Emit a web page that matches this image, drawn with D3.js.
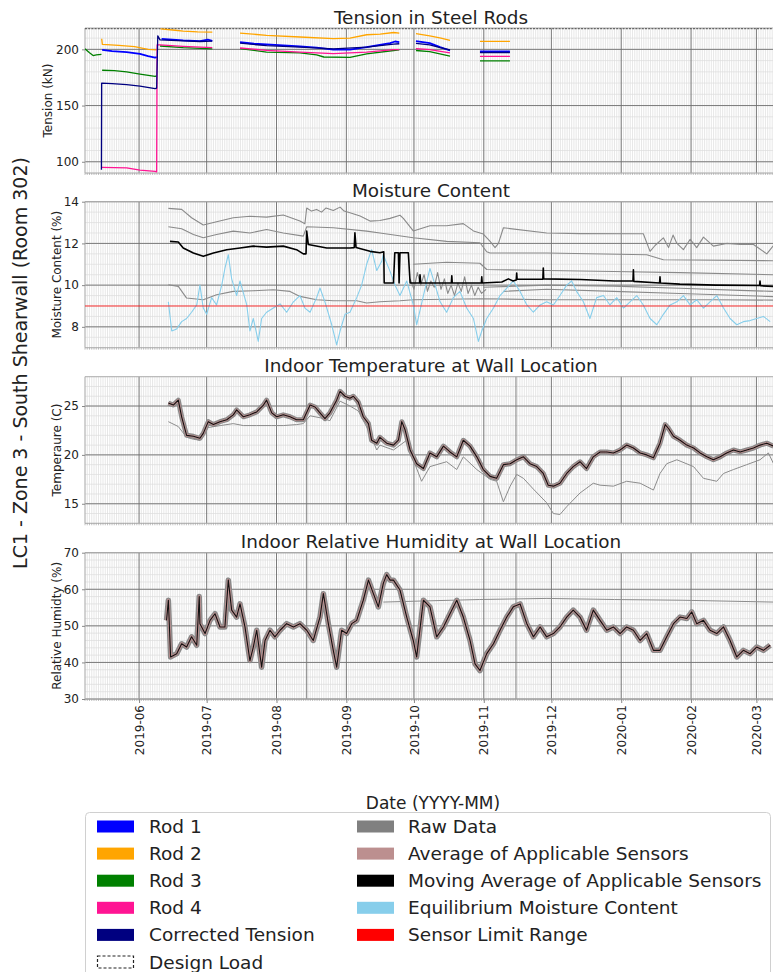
<!DOCTYPE html>
<html><head><meta charset="utf-8">
<script src="https://cdn.jsdelivr.net/npm/d3@7"></script>
<style>body{margin:0;background:#fff}svg{display:block;font-family:"DejaVu Sans",sans-serif}</style>
</head><body><svg id="c" width="773" height="972"></svg>
<script>
// ---------------- DATA (x = days since dayZero) ----------------
const dayZero = "2019-05-08";
const dayEnd = "2020-03-12";
const monthLabels = ["2019-06","2019-07","2019-08","2019-09","2019-10","2019-11","2019-12","2020-01","2020-02","2020-03"];
const eventDays = [98.4, 191.3];

const tensionTicks = [100,150,200];
const moistureTicks = [8,10,12,14];
const tempTicks = [15,20,25];
const humTicks = [30,40,50,60,70];

const designLoad = 218.6;
const sensorLimit = 9.0;

const rod1 = [[7.6,199.5],[12,198.5],[18.5,197.6],[24.4,196],[28,194],[31.1,192.6],[31.8,193],null,
 [34,209.4],[43.6,208],[51,207.4],[54.5,208.6],[56.5,207.5],null,
 [68.8,206.5],[75,205],[80.6,204.4],[88,203.5],[95.4,202.7],[102.8,201.5],[110.2,199.7],[117.6,199.7],[125,202],[135.4,205.6],[137.6,207],[139.5,206.5],null,
 [146.9,207.4],[153,205.6],[157.6,202],[162,199],null,
 [175.3,198.2],[188.6,198.2]];
const rod2 = [[7.4,209.4],[7.7,204.4],[15,203.5],[22,202.5],[28,200],[31.8,199.5],null,
 [33.5,218.3],[40,217],[43.6,216.2],[50,215.5],[56.5,215.3],null,
 [68.8,214.5],[80.6,212.5],[95.4,211],[110.2,209.5],[117.6,210],[125,213],[131,213.5],[137,215],[139.5,214.5],null,
 [146.9,214],[153,212],[158,210],[162,208],null,
 [175.3,207.1],[188.6,207.1]];
const rod3 = [[0,200.5],[2,197],[3.6,194.5],[5,195],[7.3,195.5],null,
 [7.6,181.4],[13,181],[18.5,180],[24.4,178],[31.1,176],[31.8,176.5],null,
 [33.3,203],[43.6,201.5],[56.5,200.5],null,
 [68.8,200.6],[80.6,197.6],[95.4,196.8],[102.8,195],[106,193.2],[117.6,192.8],[125,196],[137,199],[139.5,199.5],null,
 [146.9,199],[153,198],[162,194],null,
 [175.3,189.7],[188.6,189.7]];
const rod4 = [[7.5,95],[18.5,94.5],[24.4,92.5],[31.1,91.5],[31.8,91],[32.0,204],[33.3,204],[43.6,202.7],[56.5,201.5],null,
 [68.8,201.2],[80.6,199.1],[95.4,197.6],[110.2,196.2],[125,197.6],[137,199.7],[139.5,199.8],null,
 [146.9,200.6],[153,199.7],[162,196.8],null,
 [175.3,193.8],[188.6,193.8]];
const correctedTension = [[7.3,93],[7.4,170],[12,169.5],[18.5,168.7],[24.4,167.3],[31.1,165],[31.8,165.5],[32.3,212],[33.3,208.5],[43.6,207.5],[51,207],[56.5,207.3],null,
 [68.8,205.5],[80.6,203.3],[95.4,202],[110.2,200.5],[125,202],[137,204.7],[139.5,205],null,
 [146.9,205.3],[153,204],[157.6,201.5],[162,199.5],null,
 [175.3,197.2],[188.6,197.2]];

const moistRawA = [[37.0,13.68],[42.9,13.63],[47.3,13.23],[52.5,12.88],[58.4,13.04],[65.8,13.23],[73.2,13.3],[80.6,13.26],[88.0,13.36],[95.4,13.07],[97.6,12.94],[98.4,13.7],[100.5,13.55],[102.8,13.63],[105,13.5],[107,13.7],[110.2,13.58],[113.2,13.74],[115,13.55],[117.6,13.47],[122.1,13.31],[126.5,13.07],[130.9,13.1],[135.4,13.2],[139.8,13.35],[141.3,13.2],[145.7,12.6],[153.1,12.85],[160.5,12.85],[167.9,12.95],[172.4,12.6],[176.8,12.45],[179.8,12.1],[182.0,11.8],[183.5,12.0],[185.7,12.75],[204.9,12.5],[219.7,12.47],[247.8,12.46],[250.8,11.62],[253,11.9],[256.7,12.27],[259,11.8],[261,12.4],[262.7,12.0],[265.6,11.7],[268.6,12.2],[271.5,11.8],[274.5,12.3],[278.9,11.87],[284.8,12.0],[290.8,11.95],[296.7,11.95],[302.6,11.5],[305.6,11.9]];
const moistRawB = [[37.0,12.8],[42.9,12.7],[48.1,12.43],[52.5,12.27],[58.4,12.43],[65.8,12.59],[73.2,12.5],[80.6,12.67],[88.0,12.5],[96.9,12.35],[98.4,12.8],[110.2,12.75],[125.0,12.59],[130.9,12.5],[145.7,12.27],[160.5,12.1],[175.3,12.03],[178.3,11.6],[179.8,11.54],[204.9,11.54],[249.3,11.46],[256.7,11.22],[305.6,11.17]];
const moistRawC = [[37.0,10.02],[41.4,9.94],[45.1,9.38],[52.5,9.3],[58.4,9.54],[65.8,9.7],[74.7,9.73],[83.6,9.78],[91.0,9.7],[95.4,9.46],[102.8,9.3],[110.2,9.25],[120.6,9.25],[125.0,9.14],[130.9,9.2],[139.8,9.25],[145.7,9.3],[175.3,9.35],[204.9,9.3],[249.3,9.3],[278.9,9.3],[305.6,9.28]];
const moistRawD = [[145.7,11.0],[160.5,11.1],[175.3,11.05],[178.3,10.75],[204.9,10.7],[234.5,10.65],[264.1,10.6],[305.6,10.5]];
const moistRawE = [[176.8,9.9],[204.9,10.0],[234.5,9.95],[264.1,9.85],[290.8,9.75],[305.6,9.7]];
const moistRawF = [[185.7,9.7],[204.9,9.8],[234.5,9.7],[264.1,9.6],[305.6,9.45]];
const moistRawG = [[144.3,10.3],[146,9.8],[147.5,10.6],[149,10.0],[150.5,10.5],[152,9.7],[153.5,10.2],[155,9.9],[156.5,10.6],[158,9.8],[159.5,10.3],[161,9.6],[162.5,10.0],[164,9.5],[165.5,10.1],[167,9.7],[168.5,10.4],[170,9.6],[171.5,10.0],[173,9.5],[174.5,9.9],[176,9.6],[178,9.8]];
const moistMovingAvg = [[37.7,12.1],[41.4,12.07],[43.6,11.78],[48.1,11.54],[52.5,11.38],[57.0,11.54],[62.9,11.7],[68.8,11.78],[74.7,11.87],[80.6,11.82],[88.0,11.87],[93.9,11.7],[96.9,11.5],[98.1,11.5],[98.4,12.59],[99.1,11.95],[107.3,11.78],[117.6,11.78],[119.5,11.8],[119.8,12.51],[120.3,11.8],[126.5,11.62],[130.9,11.55],[132.6,11.6],[132.8,10.1],[136.9,10.1],[137.5,11.55],[139.1,11.55],[139.4,10.1],[139.8,11.55],[143.5,11.55],[144.3,10.1],[148.5,10.1],[148.7,10.5],[149,10.1],[162.6,10.1],[162.8,10.45],[163,10.1],[175.9,10.1],[176.1,10.4],[176.3,10.1],[185,10.15],[187.9,10.3],[190,10.2],[191.4,10.25],[191.6,10.58],[191.8,10.28],[203.2,10.28],[203.4,10.82],[203.6,10.3],[220,10.27],[235,10.2],[243.2,10.2],[243.4,10.74],[243.6,10.18],[255,10.1],[255.2,10.4],[255.4,10.1],[264,10.05],[280,10.0],[299.4,9.98],[299.6,10.2],[299.8,9.97],[305.6,9.94]];
const moistEMC = [[37.0,9.2],[38.5,7.8],[40.7,7.9],[42.9,8.25],[45.1,8.4],[47.3,8.7],[49.6,9.05],[51.0,10.0],[52.5,8.9],[54.0,8.6],[56.2,9.4],[58.4,9.05],[60.7,10.0],[62.1,10.8],[63.6,11.46],[65.1,10.3],[67.3,9.5],[68.8,10.2],[71.8,9.05],[73.2,7.8],[74.7,8.4],[76.9,7.3],[78.4,8.4],[80.6,8.7],[83.6,8.9],[86.6,9.1],[89.5,8.7],[92.5,9.2],[95.4,9.5],[97.6,8.9],[99.9,8.7],[102.8,9.4],[104.3,9.86],[106.5,9.2],[109.5,8.1],[111.7,7.13],[113.2,7.8],[115.4,8.6],[117.6,8.7],[120.6,9.4],[122.8,10.0],[125.0,11.0],[127.2,11.7],[129.5,10.7],[131.7,11.14],[132.4,11.46],[135.4,10.66],[137.6,10.0],[139.8,9.5],[142.8,10.2],[145.7,9.05],[147.2,8.1],[150.2,9.5],[153.1,10.8],[155.4,10.0],[157.6,9.2],[160.5,8.7],[163.5,9.4],[166.4,9.7],[169.4,8.9],[172.4,8.4],[174.6,7.3],[176.1,7.8],[178.3,8.4],[181.3,8.9],[184.2,9.5],[187.2,9.86],[190.1,10.2],[193.1,9.7],[196.1,9.05],[199.0,8.7],[202.0,9.05],[204.9,9.2],[207.9,9.05],[210.8,9.5],[213.8,10.0],[216.0,10.2],[218.2,9.7],[221.2,9.2],[224.1,8.4],[227.1,9.4],[230.1,9.5],[233.0,9.05],[236.0,9.4],[239.0,8.9],[241.9,9.2],[244.9,9.5],[247.8,9.05],[250.8,8.4],[253.8,8.1],[256.7,8.6],[259.7,9.05],[262.7,9.2],[265.6,9.5],[268.6,9.05],[271.5,9.3],[274.5,8.9],[277.4,9.2],[280.4,9.5],[283.4,8.9],[286.3,8.4],[289.3,8.1],[292.2,8.25],[295.2,8.3],[298.1,8.4],[301.1,8.5],[304.1,8.25]];

const tempMovingAvg = [[37.0,25.3],[39.2,25.1],[41.4,25.6],[42.9,23.9],[45.1,22.0],[48.1,21.9],[51.0,21.7],[52.5,22.2],[54.7,23.4],[57.0,23.1],[59.9,23.4],[62.9,23.6],[65.8,24.1],[67.3,24.6],[70.3,23.9],[73.2,24.1],[76.2,24.4],[79.2,25.1],[80.6,25.6],[82.9,24.3],[85.1,23.9],[88.0,24.1],[91.0,23.9],[93.9,23.6],[96.9,23.6],[99.9,25.1],[102.1,24.9],[104.3,24.3],[106.5,23.7],[108.7,24.3],[111.7,25.6],[113.2,26.5],[115.4,26.0],[117.6,25.8],[119.1,26.0],[121.3,25.4],[123.5,23.9],[125.8,23.2],[127.2,21.5],[129.5,21.2],[130.9,21.8],[133.9,21.2],[136.9,21.0],[139.1,21.5],[140.6,23.4],[142.0,22.6],[144.3,20.5],[147.2,19.1],[150.2,18.6],[153.1,20.2],[156.1,19.8],[159.1,20.9],[162.0,20.3],[165.0,19.8],[167.9,21.5],[170.9,20.9],[173.9,19.8],[176.8,18.5],[179.8,17.8],[182.7,17.6],[185.7,19.0],[188.7,19.1],[191.6,19.5],[194.6,19.8],[197.5,19.1],[200.5,18.8],[203.4,18.1],[205.6,16.9],[207.9,16.8],[210.8,17.1],[213.8,18.1],[216.7,18.8],[219.7,19.3],[222.6,18.6],[225.6,19.8],[228.6,20.3],[231.6,20.3],[234.5,20.2],[237.5,20.5],[240.4,21.0],[243.4,20.7],[246.4,20.2],[249.3,20.0],[252.3,19.7],[255.2,21.2],[257.5,23.1],[259.0,22.7],[261.2,21.9],[264.1,21.5],[267.1,21.0],[270.1,20.7],[273.0,20.2],[276.0,19.8],[278.9,19.5],[281.9,19.8],[284.8,20.2],[287.8,20.5],[290.8,20.3],[293.7,20.5],[296.7,20.7],[299.6,21.0],[302.6,21.2],[305.6,20.9]];
const tempRawLow = [[37.0,23.4],[41.4,22.9],[45.1,21.8],[48.1,21.6],[51.0,21.5],[54.7,22.8],[60,23.0],[65.8,23.2],[70.3,23.0],[76.2,23.0],[82.9,23.0],[88,23.0],[93.9,23.1],[96.9,23.2],[99.9,24.0],[104.3,23.8],[108.7,23.5],[113.2,25.5],[117.6,25.0],[121.3,24.5],[125.8,22.5],[129.5,20.5],[130.9,21.0],[136.9,20.5],[142.8,21.5],[145.7,19.5],[149.4,17.3],[153.1,18.8],[160.5,19.3],[165.0,18.5],[167.9,19.8],[173.9,18.5],[179.8,17.5],[182.7,17.3],[185.7,15.2],[188.7,16.8],[191.6,18.0],[194.6,17.6],[199.0,16.5],[204.9,15.1],[207.9,14.0],[210.8,13.9],[213.8,14.7],[219.7,16.1],[225.6,17.1],[228.6,16.9],[234.5,16.8],[240.4,17.3],[246.4,17.1],[252.3,16.4],[255.2,18.1],[258.2,19.1],[262.7,19.5],[270.1,18.8],[274.5,17.6],[280.4,17.3],[283.4,18.1],[287.8,18.5],[293.7,19.0],[299.6,19.5],[303.3,20.2],[305.6,19.1]];

const humMovingAvg = [[36.2,51.5],[37.0,57.0],[38.0,41.5],[40.7,42.4],[42.9,45.1],[45.1,44.2],[47.3,47.0],[49.6,44.7],[50.7,58],[51.0,50.6],[53.3,47.9],[55.5,51.5],[57.7,53.3],[59.9,49.7],[62.1,49.7],[63.6,62.5],[65.1,54.3],[67.3,52.4],[68.8,56.0],[71.0,49.7],[73.2,40.5],[74.7,44.2],[76.2,48.8],[78.4,38.7],[79.9,46.0],[82.1,48.8],[84.3,47.0],[86.6,48.8],[89.5,50.6],[92.5,49.7],[95.4,50.6],[98.4,48.8],[101.3,46.0],[104.3,52.4],[105.8,58.8],[108.0,50.6],[110.2,43.3],[111.7,38.7],[113.9,48.8],[116.1,47.9],[118.4,50.6],[120.6,51.5],[123.5,57.0],[125.8,62.5],[128.0,58.8],[130.2,55.2],[132.4,61.6],[133.9,64],[135.4,62.5],[136.9,62.5],[139.8,59.8],[142.8,52.4],[145.7,46.0],[147.2,41.5],[150.2,57.0],[153.1,55.2],[156.1,47.0],[159.1,49.7],[162.0,53.3],[165.0,57.0],[167.9,52.4],[170.9,46.0],[173.1,39.6],[175.3,37.8],[178.3,42.4],[181.3,45.1],[184.2,48.8],[187.2,52.4],[190.1,55.2],[193.1,56.0],[196.1,50.6],[199.0,47.0],[202.0,49.7],[204.9,47.0],[207.9,47.9],[210.8,49.7],[213.8,52.4],[216.7,54.3],[219.7,52.4],[222.6,48.8],[225.6,54.3],[228.6,51.5],[231.6,48.8],[234.5,49.7],[237.5,47.9],[240.4,49.7],[243.4,48.8],[246.4,46.0],[249.3,47.9],[252.3,43.3],[255.2,43.3],[258.2,47.0],[261.2,50.6],[264.1,52.4],[267.1,52.0],[269.3,53.8],[271.5,50.6],[274.5,51.5],[277.4,48.8],[280.4,47.9],[283.4,49.7],[286.3,46.0],[289.3,41.5],[292.2,43.3],[295.2,42.4],[298.1,44.2],[301.1,43.3],[304.1,44.7]];
const humRawHigh = [[132.4,56.5],[150,56.8],[175,57.2],[205,57.5],[235,57.2],[265,57.0],[305.6,56.5]];

// ---------------- LAYOUT ----------------
const svg = d3.select("#c");
const base = d3.timeParse("%Y-%m-%d")(dayZero);
const endDate = d3.timeParse("%Y-%m-%d")(dayEnd);
const toDate = d => new Date(base.getTime() + d * 864e5);
const x = d3.scaleTime().domain([base, endDate]).range([85, 781.2]);
const L = 85, R = 773;
const monthDates = monthLabels.map(s => d3.timeParse("%Y-%m")(s));
const days = d3.timeDay.range(base, endDate);

const panels = [
  {title:"Tension in Steel Rods", ylabel:"Tension (kN)", dom:[90,219], top:28, bot:173, ticks:tensionTicks, minor:10, ylx:48},
  {title:"Moisture Content", ylabel:"Moisture Content (%)", dom:[7,14], top:201.7, bot:347.7, ticks:moistureTicks, minor:0.5, ylx:57},
  {title:"Indoor Temperature at Wall Location", ylabel:"Temperaure (C)", dom:[13,28], top:376.7, bot:523.3, ticks:tempTicks, minor:1, ylx:57, events:true},
  {title:"Indoor Relative Humidity at Wall Location", ylabel:"Relative Humidty (%)", dom:[30,70], top:552.7, bot:699, ticks:humTicks, minor:2, ylx:57, events:true}
];

panels.forEach((p, i) => {
  const y = d3.scaleLinear().domain(p.dom).range([p.bot, p.top]);
  p.y = y;
  const g = svg.append("g");
  const cid = "clip" + i;
  svg.append("clipPath").attr("id", cid).append("rect").attr("x", L).attr("y", p.top).attr("width", R - L + 10).attr("height", p.bot - p.top);
  const minors = d3.range(Math.ceil(p.dom[0] / p.minor) * p.minor, p.dom[1] + 1e-9, p.minor);
  g.append("g").selectAll("line").data(days).join("line")
    .attr("x1", d => x(d)).attr("x2", d => x(d)).attr("y1", p.top).attr("y2", p.bot)
    .attr("stroke", "#dcdcdc").attr("stroke-width", 0.7);
  g.append("g").selectAll("line").data(minors).join("line")
    .attr("x1", L).attr("x2", R).attr("y1", d => y(d)).attr("y2", d => y(d))
    .attr("stroke", "#dcdcdc").attr("stroke-width", 0.7);
  g.append("g").selectAll("line").data(monthDates).join("line")
    .attr("x1", d => x(d)).attr("x2", d => x(d)).attr("y1", p.top).attr("y2", p.bot)
    .attr("stroke", "#6e6e6e").attr("stroke-width", 0.9);
  g.append("g").selectAll("line").data(p.ticks).join("line")
    .attr("x1", L).attr("x2", R).attr("y1", d => y(d)).attr("y2", d => y(d))
    .attr("stroke", "#6e6e6e").attr("stroke-width", 0.9);
  if (p.events) {
    g.append("g").selectAll("line").data(eventDays).join("line")
      .attr("x1", d => x(toDate(d))).attr("x2", d => x(toDate(d))).attr("y1", p.top).attr("y2", p.bot)
      .attr("stroke", "#777").attr("stroke-width", 0.9);
  }
  g.append("path").attr("d", `M${R+5},${p.top}H${L}V${p.bot}H${R+5}`).attr("fill", "none").attr("stroke", "#b0b0b0").attr("stroke-width", 1);
  g.append("g").selectAll("line").data(days).join("line")
    .attr("x1", d => x(d)).attr("x2", d => x(d)).attr("y1", p.bot).attr("y2", p.bot + 2)
    .attr("stroke", "#999").attr("stroke-width", 0.6);
  const ya = g.append("g").attr("transform", `translate(${L},0)`)
    .call(d3.axisLeft(y).tickValues(p.ticks).tickSize(3).tickPadding(3).tickFormat(d3.format("d")));
  ya.select(".domain").remove();
  ya.selectAll("line").attr("stroke", "#888");
  ya.selectAll("text").attr("font-size", 12).attr("fill", "#222").attr("font-family", "DejaVu Sans");
  svg.append("text").attr("x", 431).attr("y", p.top - 4.5).attr("text-anchor", "middle")
    .attr("font-size", 18.4).attr("fill", "#222").text(p.title);
  svg.append("text").attr("transform", `translate(${p.ylx},${(p.top + p.bot) / 2}) rotate(-90)`)
    .attr("text-anchor", "middle").attr("dominant-baseline", "central")
    .attr("font-size", 12).attr("fill", "#222").text(p.ylabel);
  p.plot = svg.append("g").attr("clip-path", `url(#${cid})`);
});

const mkLine = y => d3.line().defined(d => d !== null).x(d => x(toDate(d[0]))).y(d => y(d[1]));
function draw(p, data, color, w) {
  return p.plot.append("path").datum(data).attr("d", mkLine(p.y)).attr("fill", "none")
    .attr("stroke", color).attr("stroke-width", w).attr("stroke-linejoin", "round");
}

// Tension panel
const pT = panels[0];
pT.plot.append("line").attr("x1", L).attr("x2", R + 10).attr("y1", pT.y(designLoad)).attr("y2", pT.y(designLoad))
  .attr("stroke", "#666").attr("stroke-width", 1.6).attr("stroke-dasharray", "2,1.2");
draw(pT, rod2, "#ffa500", 1.3);
draw(pT, rod3, "#008000", 1.3);
draw(pT, rod4, "#ff1493", 1.3);
draw(pT, rod1, "#0000ff", 1.8);
draw(pT, correctedTension, "#000080", 1.3);

// Moisture panel
const pM = panels[1];
[moistRawA, moistRawB, moistRawC, moistRawD, moistRawE, moistRawF, moistRawG].forEach(s => draw(pM, s, "#8a8a8a", 1.1));
draw(pM, moistEMC, "#87ceeb", 1.1);
pM.plot.append("line").attr("x1", L).attr("x2", R + 10).attr("y1", pM.y(sensorLimit)).attr("y2", pM.y(sensorLimit))
  .attr("stroke", "#ff0000").attr("stroke-width", 1).attr("opacity", 0.8);
draw(pM, moistMovingAvg, "#000", 1.6);

// Temperature panel
const pTe = panels[2];
draw(pTe, tempRawLow, "#8c8c8c", 1.0);
draw(pTe, tempMovingAvg, "#8a8a8a", 5);
draw(pTe, tempMovingAvg, "#bc8f8f", 2.6);
draw(pTe, tempMovingAvg, "#111", 1.1);

// Humidity panel
const pH = panels[3];
draw(pH, humRawHigh, "#8c8c8c", 1.0);
draw(pH, humMovingAvg, "#8a8a8a", 5.5);
draw(pH, humMovingAvg, "#bc8f8f", 2.8);
draw(pH, humMovingAvg, "#111", 1.1);

// x axis (bottom panel)
const xa = svg.append("g").attr("transform", `translate(0,${pH.bot})`)
  .call(d3.axisBottom(x).tickValues(monthDates).tickSize(4).tickFormat((d, i) => monthLabels[i]));
xa.select(".domain").remove();
xa.selectAll("line").attr("stroke", "#888");
xa.selectAll("text").attr("font-size", 12).attr("fill", "#222").attr("font-family", "DejaVu Sans")
  .attr("transform", "rotate(-90)").attr("text-anchor", "end").attr("dy", "0.35em").attr("x", -6).attr("y", 0);

svg.append("text").attr("x", 433).attr("y", 809).attr("text-anchor", "middle").attr("font-size", 17)
  .attr("fill", "#222").text("Date (YYYY-MM)");

svg.append("text").attr("transform", "translate(20,363) rotate(-90)").attr("text-anchor", "middle")
  .attr("dominant-baseline", "central").attr("font-size", 19).attr("fill", "#222")
  .text("LC1 - Zone 3 - South Shearwall (Room 302)");

// Legend
const legendCol1 = [["Rod 1","#0000ff"],["Rod 2","#ffa500"],["Rod 3","#008000"],["Rod 4","#ff1493"],["Corrected Tension","#000080"],["Design Load",null]];
const legendCol2 = [["Raw Data","#808080"],["Average of Applicable Sensors","#bc8f8f"],["Moving Average of Applicable Sensors","#000000"],["Equilibrium Moisture Content","#87ceeb"],["Sensor Limit Range","#ff0000"]];
const lg = svg.append("g");
lg.append("rect").attr("x", 85.5).attr("y", 812.5).attr("width", 685).attr("height", 170).attr("rx", 4)
  .attr("fill", "#fff").attr("stroke", "#d0d0d0");
function legendCol(items, sx, tx) {
  items.forEach((it, i) => {
    const cy = 826.5 + i * 27.1;
    if (it[1]) lg.append("rect").attr("x", sx).attr("y", cy - 6).attr("width", 37).attr("height", 12).attr("fill", it[1]);
    else lg.append("rect").attr("x", sx + 0.5).attr("y", cy - 6).attr("width", 36).attr("height", 12).attr("fill", "none")
      .attr("stroke", "#222").attr("stroke-width", 1.2).attr("stroke-dasharray", "3,2");
    lg.append("text").attr("x", tx).attr("y", cy).attr("dominant-baseline", "central").attr("font-size", 18.5)
      .attr("fill", "#222").text(it[0]);
  });
}
legendCol(legendCol1, 97, 149);
legendCol(legendCol2, 357, 408);
</script></body></html>
